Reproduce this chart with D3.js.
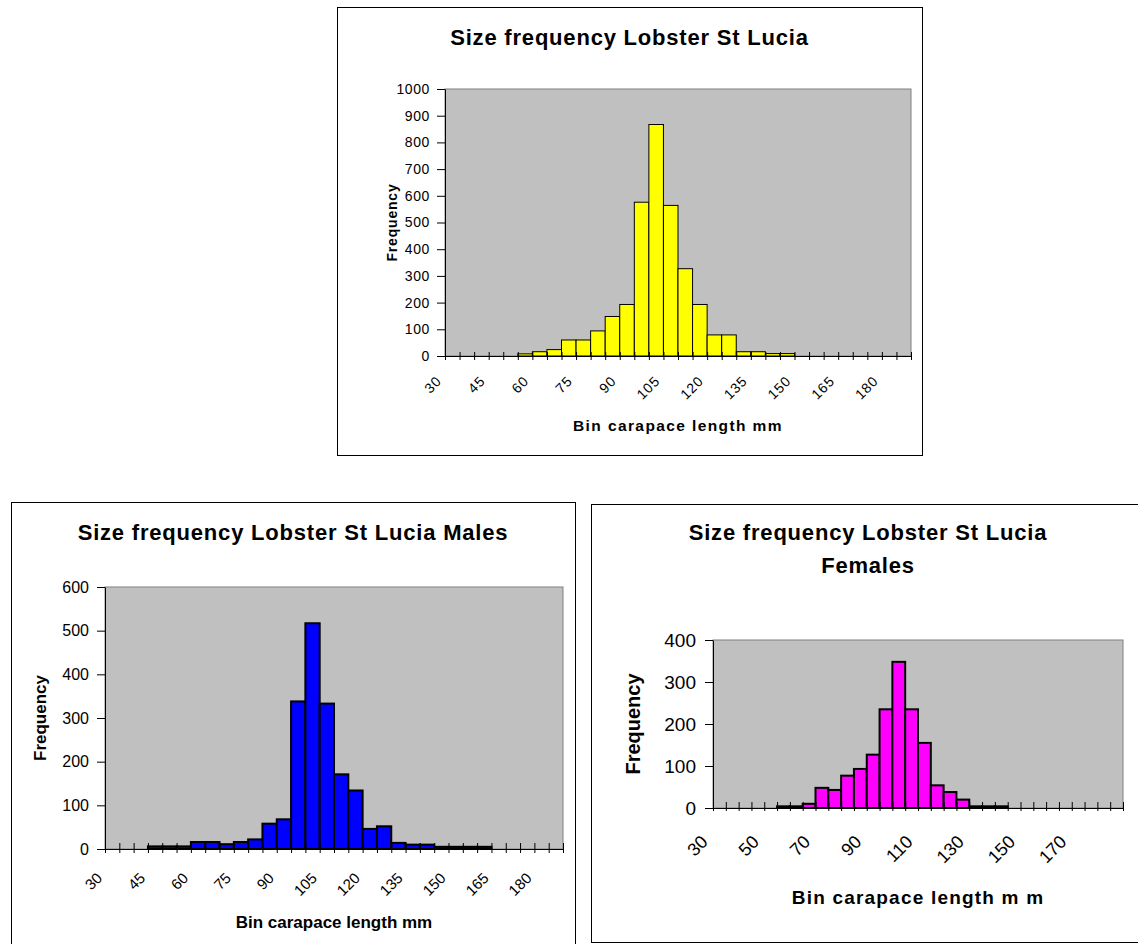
<!DOCTYPE html>
<html>
<head>
<meta charset="utf-8">
<script src="https://cdn.jsdelivr.net/npm/d3@7"></script>
<style>
body{margin:0;background:#fff;}
svg{display:block;font-family:"Liberation Sans",Arial,Helvetica,sans-serif;}
</style>
</head>
<body>
<div class="charts"></div>
<script>
// bins (carapace length, mm)
const bins = [30,35,40,45,50,55,60,65,70,75,80,85,90,95,100,105,110,115,120,125,130,135,140,145,150,155,160,165,170,175,180,185];

// frequency per bin
const allFreq    = [0,0,0,0,0,8,16,24,60,60,94,148,193,576,867,564,327,193,79,79,16,16,9,9,0,0,0,0,0,0,0,0];
const maleFreq   = [0,0,0,6,6,6,16,16,11,16,22,58,68,338,517,333,171,134,46,52,14,10,10,5,5,5,5,0,0,0,0,0];
const femaleFreq = [0,0,0,0,0,4,4,10,48,43,77,93,127,235,348,235,155,54,38,20,4,4,4,0,0,0,0,0,0,0,0,0];

// tick labels
const labelsBy15 = [30,45,60,75,90,105,120,135,150,165,180];
const labelsBy20 = [30,50,70,90,110,130,150,170];
const yTicksAll    = [0,100,200,300,400,500,600,700,800,900,1000];
const yTicksMale   = [0,100,200,300,400,500,600];
const yTicksFemale = [0,100,200,300,400];

const svg = d3.select('.charts').append('svg')
    .attr('width',1138).attr('height',944);

function drawChart(cfg){
    const g = svg.append('g');

    // chart frame
    g.append('rect')
        .attr('x',cfg.frame[0]+0.5).attr('y',cfg.frame[1]+0.5)
        .attr('width',cfg.frame[2]).attr('height',cfg.frame[3])
        .attr('fill','#fff').attr('stroke','#000').attr('stroke-width',1);

    const p = cfg.plot;
    const x = d3.scaleBand().domain(bins).range([p.x, p.x+p.w]).padding(0);
    const xb = d3.scaleLinear().domain([0,bins.length]).range([p.x, p.x+p.w]);
    const y = d3.scaleLinear().domain([0,cfg.yMax]).range([p.y+p.h, p.y]);

    // grey plot area
    g.append('rect')
        .attr('x',p.x).attr('y',p.y).attr('width',p.w).attr('height',p.h)
        .attr('fill','#c0c0c0').attr('stroke','#808080').attr('stroke-width',1);

    // bars
    const rows = bins.map((b,i)=>({bin:b, v:cfg.values[i]})).filter(d=>d.v>0);
    g.selectAll('.bar').data(rows).enter()
        .append('rect').attr('class','bar')
        .attr('x',d=>x(d.bin)).attr('y',d=>y(d.v))
        .attr('width',x.bandwidth()).attr('height',d=>y(0)-y(d.v))
        .attr('fill',cfg.color).attr('stroke','#000').attr('stroke-width',cfg.barStroke);

    // x axis: ticks between categories, crossing the axis line
    const xAxis = d3.axisBottom(xb).tickValues(d3.range(bins.length+1))
        .tickFormat(()=>'').tickSizeInner(cfg.tickDown).tickSizeOuter(0);
    const xg = g.append('g').attr('transform',`translate(0,${y(0)})`).call(xAxis);
    xg.selectAll('.tick line').attr('y1',-cfg.tickUp).attr('stroke','#000');
    xg.select('.domain').attr('stroke','#000');

    // rotated category labels
    g.selectAll('.xlab').data(cfg.labels).enter()
        .append('text').attr('class','xlab')
        .attr('transform',d=>`translate(${x(d)+x.bandwidth()/2+cfg.labDx},${y(0)+cfg.labDy}) rotate(-45)`)
        .attr('text-anchor','end')
        .style('font-size',cfg.labSize+'px')
        .style('letter-spacing',cfg.labSpace+'px')
        .attr('fill','#000')
        .text(d=>d);

    // y axis
    const yAxis = d3.axisLeft(y).tickValues(cfg.yTicks).tickFormat(d3.format('d'))
        .tickSizeInner(8).tickSizeOuter(0).tickPadding(cfg.yPad);
    const yg = g.append('g').attr('transform',`translate(${p.x},0)`).call(yAxis)
        .attr('font-family',null).attr('font-size',null);
    yg.select('.domain').attr('stroke','#000');
    yg.selectAll('.tick line').attr('stroke','#000');
    yg.selectAll('.tick text')
        .style('font-size',cfg.ySize+'px')
        .style('letter-spacing',cfg.ySpace+'px')
        .attr('fill','#000');

    // titles
    const t = g.append('text').attr('text-anchor','middle')
        .style('font-size','22px').style('font-weight','bold')
        .style('letter-spacing','0.8px');
    cfg.title.forEach((line,i)=>{
        t.append('tspan').attr('x',cfg.titleX).attr('y',cfg.titleY+i*33).text(line);
    });

    g.append('text')
        .attr('transform',`translate(${cfg.yTitleX},${p.y+p.h/2}) rotate(-90)`)
        .attr('text-anchor','middle').attr('dy','0.35em')
        .style('font-size',cfg.yTitleSize+'px').style('font-weight','bold')
        .style('letter-spacing',cfg.yTitleSpace+'px')
        .text('Frequency');

    g.append('text')
        .attr('x',p.x+p.w/2).attr('y',cfg.xTitleY)
        .attr('text-anchor','middle')
        .style('font-size',cfg.xTitleSize+'px').style('font-weight','bold')
        .style('letter-spacing',cfg.xTitleSpace+'px')
        .text(cfg.xTitle);
}

// all lobsters (top)
drawChart({
    frame:[337,7,585,448], plot:{x:445,y:89,w:466,h:267},
    values:allFreq, yMax:1000, yTicks:yTicksAll, labels:labelsBy15,
    color:'#ffff00', barStroke:1,
    tickUp:4, tickDown:4, labDx:-10, labDy:26, labSize:14, labSpace:0.8,
    yPad:7, ySize:14, ySpace:0.6,
    title:['Size frequency Lobster St Lucia'], titleX:629.5, titleY:45,
    yTitleX:392, yTitleSize:14, yTitleSpace:0.8,
    xTitle:'Bin carapace length mm', xTitleY:431, xTitleSize:15.5, xTitleSpace:1.4
});

// males (bottom left)
drawChart({
    frame:[11,502,564,460], plot:{x:105,y:587,w:458,h:262},
    values:maleFreq, yMax:600, yTicks:yTicksMale, labels:labelsBy15,
    color:'#0000ff', barStroke:2,
    tickUp:6, tickDown:4, labDx:-9, labDy:30, labSize:15, labSpace:0,
    yPad:8, ySize:16, ySpace:0,
    title:['Size frequency Lobster St Lucia Males'], titleX:293, titleY:540,
    yTitleX:40, yTitleSize:17, yTitleSpace:0,
    xTitle:'Bin carapace length mm', xTitleY:928, xTitleSize:17, xTitleSpace:0
});

// females (bottom right)
drawChart({
    frame:[591,504,560,438], plot:{x:713,y:640,w:410,h:168},
    values:femaleFreq, yMax:400, yTicks:yTicksFemale, labels:labelsBy20,
    color:'#ff00ff', barStroke:2,
    tickUp:6, tickDown:3, labDx:-10.5, labDy:35, labSize:18, labSpace:0,
    yPad:9, ySize:19, ySpace:0,
    title:['Size frequency Lobster St Lucia','Females'], titleX:868, titleY:540,
    yTitleX:633, yTitleSize:20, yTitleSpace:0,
    xTitle:'Bin carapace length m m', xTitleY:904, xTitleSize:19, xTitleSpace:1.2
});
</script>
</body>
</html>
